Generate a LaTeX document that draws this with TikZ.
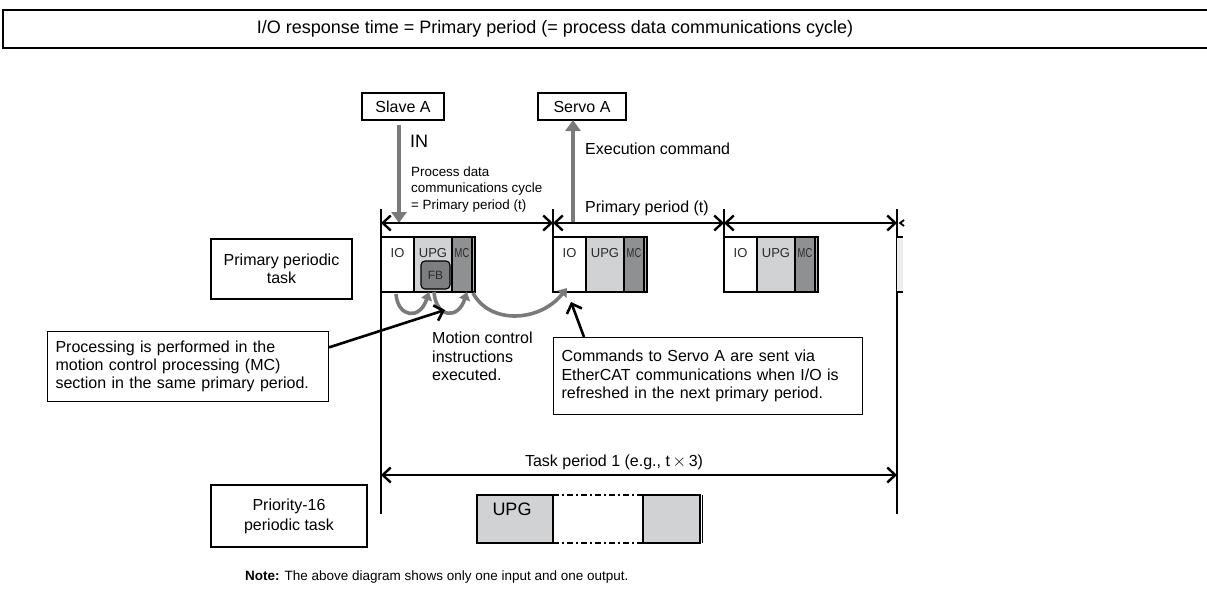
\documentclass[tikz,border=0pt]{standalone}
\usepackage{fontspec}
\setmainfont{Liberation Sans}
\usetikzlibrary{arrows.meta,calc}
\definecolor{upgc}{HTML}{D1D2D4}
\definecolor{mcc}{HTML}{8F9092}
\definecolor{fbc}{HTML}{7D7E80}
\definecolor{arrg}{HTML}{7A7A7C}
\definecolor{edgeg}{HTML}{EEEEEE}
\definecolor{celltxt}{HTML}{2A2A2A}
\begin{document}
\begin{tikzpicture}[x=1pt,y=-1pt,
  txt/.style={font=\fontsize{16}{18.3}\selectfont, inner sep=0pt},
  small/.style={font=\fontsize{13.4}{16.3}\selectfont, inner sep=0pt},
  bx/.style={draw, line width=1.1pt},
  cell/.style={draw, line width=1.1pt},
  celltext/.style={font=\fontsize{13}{13}\selectfont, inner sep=0pt, text=celltxt},
  dimline/.style={line width=2.4pt, {Straight Barb[length=8pt,width=15pt]}-{Straight Barb[length=8pt,width=15pt]}},
  vline/.style={line width=1.2pt},
  garrow/.style={draw=arrg, line width=4.5pt, -{Triangle[length=11pt,width=15pt]}, arrg},
  carrow/.style={draw=arrg, line width=3.6pt, -{Triangle[length=8pt,width=11pt]}, arrg},
  barrow/.style={line width=2.6pt, -{Straight Barb[length=8pt,width=16pt]}},
  dashdot/.style={line width=2pt, dash pattern=on 6pt off 3pt on 2pt off 3pt}
]
\useasboundingbox (0,0) rectangle (1207,589);

% title
\draw[line width=1.6pt] (1210,10) -- (3,10) -- (3,48) -- (1210,48);
\node[font=\fontsize{18}{18}\selectfont, inner sep=0pt] (title) at (555,29) {I/O response time = Primary period (= process data communications cycle)};

% Slave / Servo
\node[bx, txt, minimum width=82pt, minimum height=27pt] (slave) at (403,106.5) {Slave A};
\node[bx, txt, minimum width=88pt, minimum height=27pt] (servo) at (582,106.5) {Servo A};

\coordinate (inS) at (399,125);
\coordinate (inE) at (399,223);
\draw[garrow] (inS) -- (inE);
\node[font=\fontsize{18}{18}\selectfont, inner sep=0pt, anchor=west] (inlbl) at (410,141) {IN};
\node[small, anchor=west, align=left] (pdc) at (411,189.5) {Process data\\communications cycle\\= Primary period (t)};

\coordinate (exS) at (573,223);
\coordinate (exE) at (573,120);
\draw[garrow] (exS) -- (exE);
\node[txt, anchor=west] (exlbl) at (585,149) {Execution command};
\node[txt, anchor=west] (pplbl) at (585,208) {Primary period (t)};

% timeline verticals
\coordinate (v1t) at (381,209); \coordinate (v1b) at (381,514);
\coordinate (v2t) at (553,209); \coordinate (v2b) at (553,237);
\coordinate (v3t) at (724,209); \coordinate (v3b) at (724,237);
\coordinate (v4t) at (897,209); \coordinate (v4b) at (897,514);
\draw[vline] (v1t) -- (v1b);
\draw[vline] (v2t) -- (v2b);
\draw[vline] (v3t) -- (v3b);
\draw[vline] (v4t) -- (v4b);

% primary period dims
\coordinate (d1) at (381,223); \coordinate (d2) at (553,223);
\coordinate (d3) at (724,223); \coordinate (d4) at (897,223);
\draw[dimline] (d1) -- (d2);
\draw[dimline] (d2) -- (d3);
\draw[dimline] (d3) -- (d4);
\draw[line width=1.8pt] (904,220) -- (900,223) -- (904,226);

% blocks
\foreach \x/\n in {381/1,553/2,724/3}{
  \filldraw[cell, fill=white] (\x,237) rectangle ++(33,55);
  \filldraw[cell, fill=upgc] (\x+33,237) rectangle ++(38,55);
  \filldraw[cell, fill=mcc] (\x+71,237) rectangle ++(20,55);
  \filldraw[cell, fill=upgc!60!mcc] (\x+91,237) rectangle ++(3,55);
  \node[celltext] (io\n) at (\x+16.5,253) {IO};
  \node[celltext] (upg\n) at (\x+52,253) {UPG};
  \node[celltext] (mc\n) at (\x+81,253) {\scalebox{0.72}[1]{MC}};
}
\fill[edgeg] (897,237) rectangle (903,292);
\draw[cell] (897,237) -- (903,237);
\draw[cell] (897,292) -- (903,292);

% FB
\node[draw, line width=1.1pt, fill=fbc, rounded corners=4pt, minimum width=29pt, minimum height=28pt, inner sep=0pt, font=\fontsize{12}{12}\selectfont, text=celltxt] (fb) at (435.5,275) {FB};

% curved gray arrows
\coordinate (c1s) at (396,294); \coordinate (c1e) at (429,292);
\coordinate (c2s) at (434,292); \coordinate (c2e) at (467,292);
\coordinate (c3s) at (473,293); \coordinate (c3e) at (567,288);
\draw[carrow] (c1s) .. controls (398,318) and (420,320) .. (c1e);
\draw[carrow] (c2s) .. controls (436,318) and (458,320) .. (c2e);
\draw[carrow] (c3s) .. controls (490,325) and (540,322) .. (c3e);

% left labels
\node[bx, txt, minimum width=141pt, minimum height=60pt, align=center] (ppt) at (281.5,269) {Primary periodic\\task};

\node[bx, txt, anchor=north west, text width=265pt, inner xsep=8pt, inner ysep=0pt, minimum height=70pt, align=left] (proc) at (47,331) {Processing is performed in the\\motion control processing (MC)\\section in the same primary period.};

\node[txt, anchor=north west, align=left] (mci) at (432,332) {Motion control\\instructions\\executed.};

\node[bx, txt, anchor=north west, text width=293pt, inner xsep=8pt, inner ysep=0pt, minimum height=77pt, align=left] (cmd) at (553,337) {Commands to Servo A are sent via\\EtherCAT communications when I/O is\\refreshed in the next primary period.};

% black pointer arrows
\coordinate (p1s) at ($(proc.north east)!0.23!(proc.south east)$);
\coordinate (p1e) at (445,310);
\draw[barrow] (p1s) -- (p1e);
\coordinate (p2s) at (584,337);
\coordinate (p2e) at (571,302);
\draw[barrow] (p2s) -- (p2e);

% task period
\coordinate (tp1) at (381,475); \coordinate (tp2) at (897,475);
\draw[dimline] (tp1) -- (tp2);
\node[txt] (tplbl) at (614,462) {Task period 1 (e.g., t\,$\times$\,3)};

% priority-16
\node[bx, font=\fontsize{16}{20}\selectfont, inner sep=0pt, minimum width=156pt, minimum height=62pt, align=center] (p16) at (289,516) {Priority-16\\periodic task};
\filldraw[cell, fill=upgc] (477,495) rectangle (553,543);
\node[font=\fontsize{18}{18}\selectfont, inner sep=0pt] (upgp) at (512,509) {UPG};
\filldraw[cell, fill=upgc] (643,495) rectangle (700,543);
\draw[line width=0.8pt] (702.5,495) -- (702.5,543);
\coordinate (dd1) at (553,495); \coordinate (dd2) at (643,495);
\coordinate (dd3) at (553,543); \coordinate (dd4) at (643,543);
\draw[dashdot] (dd1) -- (dd2);
\draw[dashdot] (dd3) -- (dd4);

% note
\node[font=\fontsize{13.5}{13.5}\selectfont, inner sep=0pt, anchor=west] (note) at (245,577) {\textbf{Note:} The above diagram shows only one input and one output.};
\end{tikzpicture}
\end{document}
